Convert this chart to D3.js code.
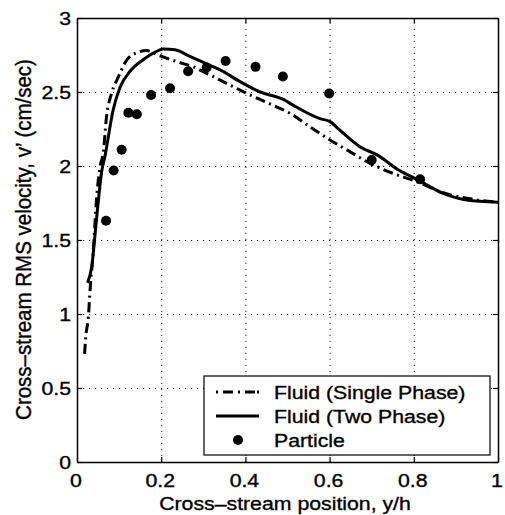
<!DOCTYPE html>
<html>
<head>
<meta charset="utf-8">
<script src="https://cdn.jsdelivr.net/npm/d3@7"></script>
<style>
  html, body { margin: 0; padding: 0; background: #fff; }
  svg { display: block; }
  text { font-family: "Liberation Sans", Arial, Helvetica, sans-serif; fill: #000; stroke: #000; stroke-width: 0.35px; }
</style>
</head>
<body>
<div id="chart"></div>
<script>
// ---- data ----
const singleX = [0.018,0.021,0.027,0.031,0.038,0.047,0.055,0.0625,0.070,0.082,0.098,0.118,0.146,0.165,0.197,0.237,0.276,0.316,0.363,0.419,0.458,0.506,0.553,0.601,0.648,0.696,0.751,0.807,0.870,0.930,1.000];
const singleY = [0.73,0.85,0.98,1.16,1.40,1.80,2.00,2.09,2.33,2.49,2.60,2.715,2.77,2.78,2.745,2.705,2.67,2.615,2.547,2.47,2.42,2.356,2.265,2.176,2.097,2.018,1.95,1.894,1.82,1.78,1.755];

const twoX = [0.025,0.035,0.047,0.059,0.066,0.086,0.102,0.126,0.158,0.193,0.205,0.233,0.268,0.308,0.340,0.387,0.435,0.490,0.514,0.577,0.601,0.625,0.672,0.716,0.760,0.807,0.870,0.926,1.000];
const twoY = [1.21,1.32,1.66,1.97,2.06,2.38,2.53,2.64,2.72,2.78,2.79,2.785,2.74,2.69,2.65,2.57,2.50,2.45,2.41,2.32,2.30,2.24,2.13,2.07,1.98,1.91,1.815,1.77,1.755];

const particleX = [0.069,0.087,0.106,0.122,0.142,0.176,0.221,0.264,0.308,0.353,0.424,0.489,0.599,0.700,0.815];
const particleY = [1.63,1.97,2.11,2.36,2.35,2.48,2.525,2.64,2.665,2.71,2.67,2.605,2.49,2.04,1.91];

const xTicks = [0, 0.2, 0.4, 0.6, 0.8, 1];
const yTicks = [0, 0.5, 1, 1.5, 2, 2.5, 3];
const xTickLabels = ["0", "0.2", "0.4", "0.6", "0.8", "1"];
const yTickLabels = ["0", "0.5", "1", "1.5", "2", "2.5", "3"];
const legendLabels = ["Fluid (Single Phase)", "Fluid (Two Phase)", "Particle"];
const xTitle = "Cross\u2013stream position, y/h";
const yTitle = "Cross\u2013stream RMS velocity, v\u2019 (cm/sec)";

// ---- layout ----
const W = 505, H = 515;
const pLeft = 77, pTop = 18, pRight = 498, pBottom = 462;
const FS = 18.5, SX = 1.15;

const svg = d3.select("#chart").append("svg").attr("width", W).attr("height", H);

const x = d3.scaleLinear().domain([0, 1]).range([pLeft, pRight]);
const y = d3.scaleLinear().domain([0, 3]).range([pBottom, pTop]);

// grid
const grid = svg.append("g").attr("class", "grid");
grid.append("g").attr("transform", `translate(0,${pBottom})`)
  .call(d3.axisBottom(x).tickValues(xTicks.slice(1, -1)).tickSize(-(pBottom - pTop)).tickFormat(""))
  .call(g => g.select(".domain").remove())
  .call(g => g.selectAll("line").attr("stroke", "#222").attr("stroke-width", 1).attr("stroke-dasharray", "1.2,4.8"));
grid.append("g").attr("transform", `translate(${pLeft},0)`)
  .call(d3.axisLeft(y).tickValues(yTicks.slice(1, -1)).tickSize(-(pRight - pLeft)).tickFormat(""))
  .call(g => g.select(".domain").remove())
  .call(g => g.selectAll("line").attr("stroke", "#222").attr("stroke-width", 1).attr("stroke-dasharray", "1.2,4.8"));

// axes with inward ticks (all four sides)
function styleAxis(g) {
  g.select(".domain").attr("stroke", "#000").attr("stroke-width", 1.5);
  g.selectAll(".tick line").attr("stroke", "#000").attr("stroke-width", 1.2);
  g.selectAll(".tick text").remove();
}
svg.append("g").attr("transform", `translate(0,${pBottom})`)
  .call(d3.axisBottom(x).tickValues(xTicks).tickSizeInner(-5).tickSizeOuter(0)).call(styleAxis);
svg.append("g").attr("transform", `translate(0,${pTop})`)
  .call(d3.axisTop(x).tickValues(xTicks).tickSizeInner(-5).tickSizeOuter(0)).call(styleAxis);
svg.append("g").attr("transform", `translate(${pLeft},0)`)
  .call(d3.axisLeft(y).tickValues(yTicks).tickSizeInner(-5).tickSizeOuter(0)).call(styleAxis);
svg.append("g").attr("transform", `translate(${pRight},0)`)
  .call(d3.axisRight(y).tickValues(yTicks).tickSizeInner(-5).tickSizeOuter(0)).call(styleAxis);

// stretched text helper
function stext(parent, tx, ty, str, anchor, size, sx) {
  return parent.append("text")
    .attr("transform", `translate(${tx},${ty}) scale(${sx},1)`)
    .attr("text-anchor", anchor)
    .attr("font-size", size)
    .text(str);
}

// tick labels
xTicks.forEach((v, i) => stext(svg, x(v) - 1, 487, xTickLabels[i], "middle", FS, SX));
yTicks.forEach((v, i) => stext(svg, 71, y(v) + 7, yTickLabels[i], "end", FS, SX));

// axis titles
stext(svg, 285, 510, xTitle, "middle", FS, SX);
svg.append("text")
  .attr("transform", `translate(31,${(57 + 422) / 2}) rotate(-90) scale(1,1.12)`)
  .attr("text-anchor", "middle")
  .attr("font-size", 20.5)
  .text(yTitle);

// clip
svg.append("clipPath").attr("id", "clip")
  .append("rect").attr("x", pLeft).attr("y", pTop).attr("width", pRight - pLeft).attr("height", pBottom - pTop);

const plot = svg.append("g").attr("clip-path", "url(#clip)");

const line = d3.line().x(d => x(d[0])).y(d => y(d[1])).curve(d3.curveMonotoneX);

plot.append("path")
  .datum(singleX.map((v, i) => [v, singleY[i]]))
  .attr("d", line)
  .attr("fill", "none").attr("stroke", "#000").attr("stroke-width", 3)
  .attr("stroke-dasharray", "10,4.5,2,4.5");

plot.append("path")
  .datum(twoX.map((v, i) => [v, twoY[i]]))
  .attr("d", line)
  .attr("fill", "none").attr("stroke", "#000").attr("stroke-width", 3);

plot.selectAll("circle.p")
  .data(particleX.map((v, i) => [v, particleY[i]]))
  .enter().append("circle").attr("class", "p")
  .attr("cx", d => x(d[0])).attr("cy", d => y(d[1])).attr("r", 5).attr("fill", "#000");

// legend
const lg = svg.append("g");
lg.append("rect").attr("x", 204).attr("y", 376).attr("width", 286).attr("height", 79)
  .attr("fill", "#fff").attr("stroke", "#000").attr("stroke-width", 1.2);
const rowY = [392, 416, 440];
lg.append("line").attr("x1", 216).attr("x2", 259).attr("y1", rowY[0]).attr("y2", rowY[0])
  .attr("stroke", "#000").attr("stroke-width", 3).attr("stroke-dasharray", "2,5,10,5,2,5,10");
lg.append("line").attr("x1", 216).attr("x2", 259).attr("y1", rowY[1]).attr("y2", rowY[1])
  .attr("stroke", "#000").attr("stroke-width", 3);
lg.append("circle").attr("cx", 238).attr("cy", rowY[2]).attr("r", 5).attr("fill", "#000");
legendLabels.forEach((t, i) => stext(lg, 274, rowY[i] + 7, t, "start", FS, SX));
</script>
</body>
</html>
